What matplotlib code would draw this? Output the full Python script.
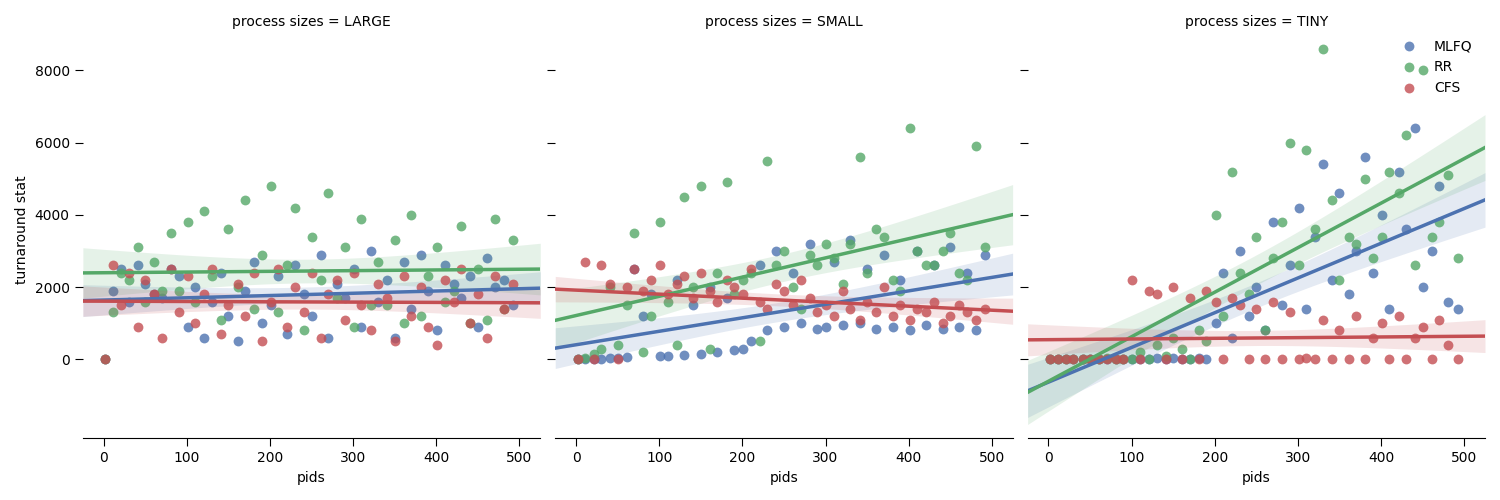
import numpy as np
import matplotlib.pyplot as plt

pids = [2, 11, 21, 30, 41, 50, 61, 70, 81, 90,
        101, 110, 121, 130, 141, 150, 161, 170, 181, 190,
        201, 210, 221, 230, 241, 250, 261, 270, 281, 290,
        301, 310, 321, 330, 341, 350, 361, 370, 381, 390,
        401, 410, 421, 430, 441, 450, 461, 470, 481, 492]

sizes = ["LARGE", "SMALL", "TINY"]
schedulers = ["MLFQ", "RR", "CFS"]
colors = ["#4C72B0", "#55A868", "#C44E52"]

large_mlfq = [0, 1900, 2500, 1600, 2600, 2100, 1800, 1700, 2500, 2300,
              900, 2000, 600, 1600, 2400, 1200, 500, 1900, 2700, 1000,
              1500, 2300, 700, 2600, 1800, 1200, 2900, 600, 2100, 1700,
              2500, 900, 3000, 1600, 2200, 600, 2700, 1400, 2900, 1900,
              800, 2600, 2100, 1700, 2300, 900, 2800, 2000, 2200, 1500]
large_rr = [0, 1300, 2400, 2200, 3100, 1600, 2700, 1900, 3500, 1900,
            3800, 1600, 4100, 2300, 1100, 3600, 2000, 4400, 1400, 2900,
            4800, 1300, 2600, 4200, 800, 3400, 2200, 4600, 1700, 3100,
            900, 3900, 1500, 2700, 1500, 3300, 1000, 4000, 1200, 2300,
            3100, 1600, 1900, 3700, 1000, 2500, 1100, 3900, 1400, 3300]
large_cfs = [0, 2600, 1500, 2400, 900, 2200, 1800, 600, 2500, 1300,
             2300, 1000, 1800, 2500, 700, 1500, 2100, 1200, 2400, 500,
             1600, 2500, 900, 2000, 1300, 2400, 600, 1800, 2200, 1100,
             2400, 1500, 800, 2100, 1700, 500, 2300, 1200, 2000, 900,
             400, 2200, 1600, 2500, 1000, 1800, 600, 2300, 1400, 2100]

small_mlfq = [0, 0, 10, 20, 30, 40, 60, 2500, 1200, 1800,
              80, 100, 2200, 120, 1500, 150, 2000, 200, 1700, 250,
              300, 500, 2600, 800, 3000, 900, 2400, 1000, 3200, 850,
              900, 2700, 950, 3300, 1000, 2500, 850, 2900, 900, 2200,
              800, 3000, 950, 2600, 850, 3100, 900, 2400, 800, 2900]
small_rr = [0, 50, 150, 300, 2000, 400, 1500, 3500, 200, 1200,
            3800, 1600, 400, 4500, 2000, 4800, 300, 2400, 4900, 1800,
            2200, 2400, 500, 5500, 2600, 3000, 2000, 1400, 2900, 2600,
            3200, 2800, 2100, 3200, 5600, 2400, 3600, 3400, 2200, 1900,
            6400, 3000, 2600, 2600, 3000, 3500, 2400, 2200, 5900, 3100]
small_cfs = [0, 2700, 0, 2600, 2100, 0, 2000, 2500, 1900, 2200,
             2600, 1800, 2100, 2300, 1700, 2400, 1900, 1600, 2200, 2000,
             1800, 2500, 1600, 1400, 2100, 1900, 1500, 2200, 1700, 1300,
             1500, 1200, 1900, 1400, 1100, 1600, 1300, 2000, 1200, 1500,
             1100, 1400, 1300, 1600, 1000, 1200, 1500, 1300, 1100, 1400]

tiny_mlfq = [0, 0, 0, 10, 0, 0, 20, 0, 0, 0,
             0, 10, 0, 30, 0, 50, 0, 20, 40, 0,
             1000, 2400, 600, 3000, 1200, 2000, 800, 3800, 1500, 2600,
             4200, 1400, 3400, 5400, 2200, 4600, 1800, 3000, 5600, 2400,
             4000, 1400, 5200, 3600, 6400, 2000, 3000, 4800, 1600, 1400]
tiny_rr = [0, 0, 10, 0, 20, 0, 0, 30, 0, 0,
           0, 200, 0, 400, 100, 600, 300, 0, 800, 500,
           4000, 1200, 5200, 2400, 1800, 3400, 800, 2800, 3800, 6000,
           2600, 5800, 3600, 8600, 4400, 2200, 3400, 3200, 5000, 2800,
           3400, 5200, 4600, 6200, 2600, 8000, 3400, 3800, 5100, 2800]
tiny_cfs = [0, 0, 0, 0, 10, 0, 0, 0, 20, 0,
            2200, 0, 1900, 1800, 0, 2000, 0, 1700, 0, 1900,
            1600, 0, 1700, 1500, 0, 1400, 0, 1600, 0, 1300,
            0, 30, 0, 1100, 0, 800, 0, 1200, 0, 600,
            1000, 0, 1200, 0, 600, 900, 0, 1100, 400, 0]

data = {
    "LARGE": [large_mlfq, large_rr, large_cfs],
    "SMALL": [small_mlfq, small_rr, small_cfs],
    "TINY": [tiny_mlfq, tiny_rr, tiny_cfs],
}


def regline(x, y, grid):
    # ordinary least squares with a 95% confidence band
    x = np.asarray(x, float)
    y = np.asarray(y, float)
    b, a = np.polyfit(x, y, 1)
    n = len(x)
    resid = y - (a + b * x)
    s = np.sqrt((resid ** 2).sum() / (n - 2))
    sxx = ((x - x.mean()) ** 2).sum()
    fit = a + b * grid
    se = s * np.sqrt(1 / n + (grid - x.mean()) ** 2 / sxx)
    return fit, 1.96 * se


fig, axes = plt.subplots(1, 3, figsize=(15, 5), dpi=100, sharey=True)
grid = np.linspace(-25, 525, 100)
for ax, size in zip(axes, sizes):
    for name, ys, c in zip(schedulers, data[size], colors):
        ax.scatter(pids, ys, s=50, color=c, alpha=0.8, label=name, linewidths=0)
        fit, ci = regline(pids, ys, grid)
        ax.plot(grid, fit, color=c, lw=2.5)
        ax.fill_between(grid, fit - ci, fit + ci, color=c, alpha=0.15, lw=0)
    ax.set_title(f"process sizes = {size}", fontsize=10)
    ax.set_xlabel("pids", fontsize=10)
    ax.set_xlim(-25, 525)
    ax.set_xticks([0, 100, 200, 300, 400, 500])
    for sp in ["top", "right", "left"]:
        ax.spines[sp].set_visible(False)
    ax.spines["bottom"].set_position(("outward", 10))
    ax.tick_params(labelsize=10, length=6)
axes[0].set_ylim(-1800, 9000)
axes[0].set_yticks([0, 2000, 4000, 6000, 8000])
axes[0].set_ylabel("turnaround stat", fontsize=10)
for ax in axes[1:]:
    ax.tick_params(axis="y", labelleft=False)
axes[2].legend(loc="upper right", frameon=False, fontsize=10, handletextpad=0.8,
               bbox_to_anchor=(1.0, 1.02))
fig.tight_layout()
fig.savefig("out.png")
